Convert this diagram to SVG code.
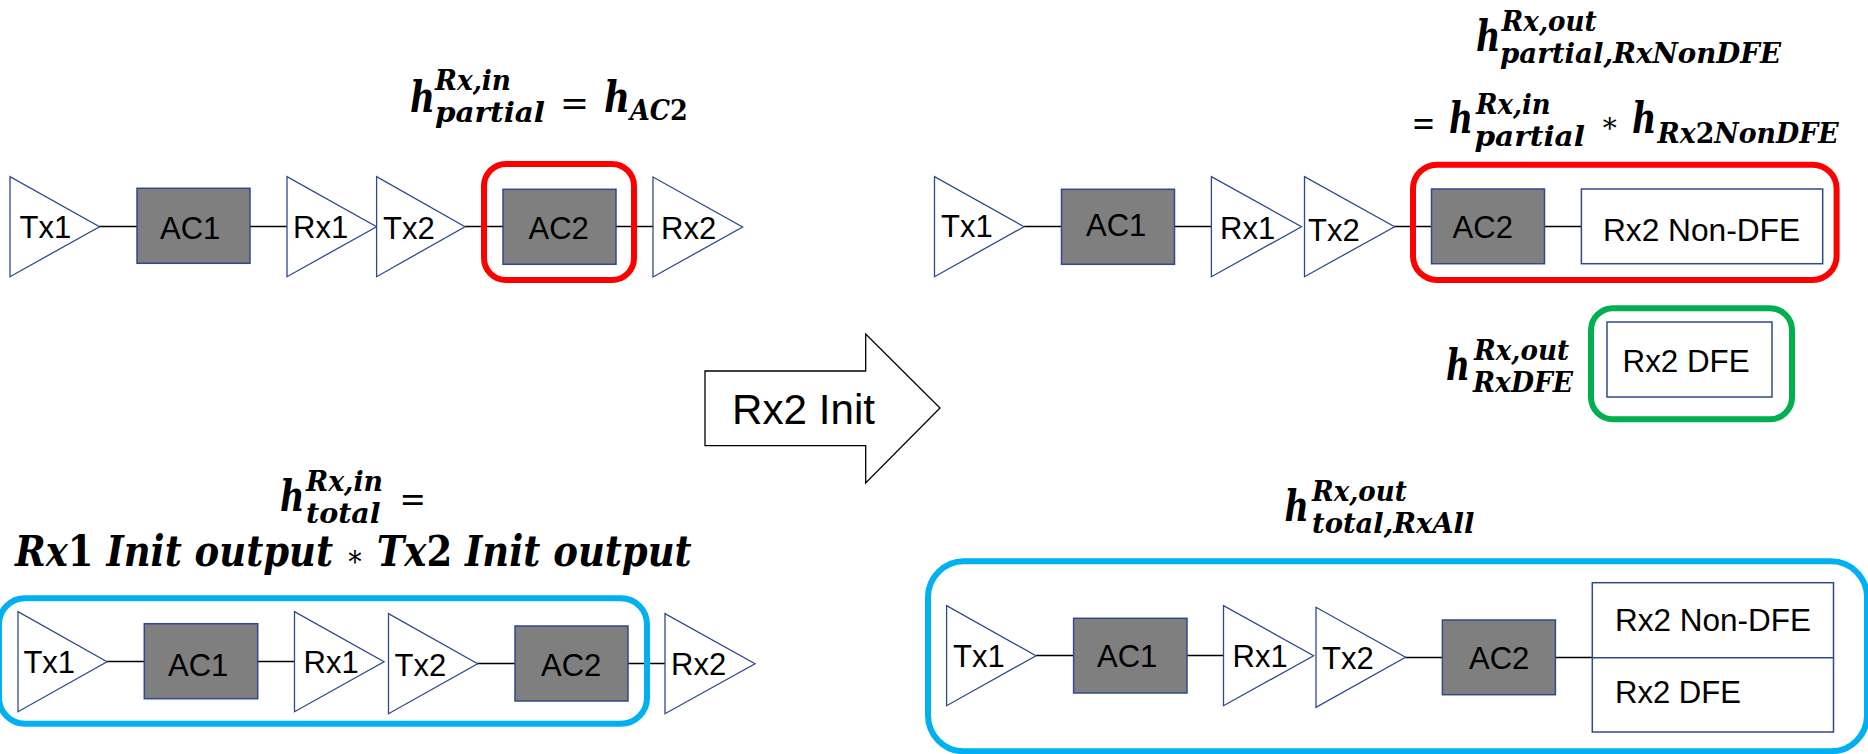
<svg xmlns="http://www.w3.org/2000/svg" width="1868" height="754" viewBox="0 0 1868 754">
<style>
.t{font-family:"Liberation Sans",Arial,sans-serif;font-size:31px;fill:#000}
.a{fill:#fff;stroke:#2F4A8C;stroke-width:1.3}
.g{fill:#7F7F7F;stroke:#2F4A8C;stroke-width:1.5}
.w{fill:#fff;stroke:#2F4A8C;stroke-width:1.5}
.l{stroke:#000;stroke-width:1.4;fill:none}
.hl{fill:none;stroke-width:6}
.m{font-family:"DejaVu Serif","Liberation Serif",serif;font-weight:700;font-style:italic;fill:#000}
.b{font-size:42px}
.s{font-size:28px}
.n{font-style:normal}
.st{font-style:normal;font-weight:400;font-size:30px}
.u{font-family:"DejaVu Serif","Liberation Serif",serif;font-weight:400;fill:#000;font-size:36px}
.x{font-family:"DejaVu Serif","Liberation Serif",serif;font-weight:400;fill:#000;font-size:28px}
</style>
<rect width="1868" height="754" fill="#fff"/>
<g id="connectors">
<path class="l" d="M99 226.5H137M250 226.5H287M465 226.5H503M616 226.5H653"/>
<path class="l" d="M1024 226.5H1062M1174 226.5H1211M1394 226.5H1432M1544 226.5H1581"/>
<path class="l" d="M107 661.5H144M258 661.5H295M477 663.5H515M628 663.5H665"/>
<path class="l" d="M1036 655.5H1074M1187 655.5H1224M1405 657.5H1442M1555 657.5H1592"/>
</g>
<g id="row1">
<g id="r1-tx1"><path class="a" d="M10 176.7V276.7L99.5 226.7Z"/><text class="t" x="19.5" y="238.3">Tx1</text></g>
<g id="r1-ac1"><rect class="g" x="137" y="188.3" width="113" height="75"/><text class="t" x="160" y="238.5">AC1</text></g>
<g id="r1-rx1"><path class="a" d="M287 176.7V276.7L376.6 226.7Z"/><text class="t" x="293" y="238">Rx1</text></g>
<g id="r1-tx2"><path class="a" d="M376.6 176.7V276.7L465 226.7Z"/><text class="t" x="383" y="239">Tx2</text></g>
<g id="r1-ac2"><rect class="g" x="503" y="189.3" width="113" height="75"/><text class="t" x="528.5" y="239">AC2</text></g>
<g id="r1-rx2"><path class="a" d="M653 177V277L742.6 227Z"/><text class="t" x="661" y="239">Rx2</text></g>
<rect id="r1-red" class="hl" stroke="#FF0000" x="484" y="164" width="150" height="116" rx="22"/>
</g>
<g id="row2">
<g id="r2-tx1"><path class="a" d="M934.5 176.7V276.7L1024 226.7Z"/><text class="t" x="941" y="237.3">Tx1</text></g>
<g id="r2-ac1"><rect class="g" x="1061.5" y="189.3" width="113" height="75"/><text class="t" x="1086" y="235.5">AC1</text></g>
<g id="r2-rx1"><path class="a" d="M1211.4 176.7V276.7L1301.5 226.7Z"/><text class="t" x="1220" y="238.7">Rx1</text></g>
<g id="r2-tx2"><path class="a" d="M1304.5 176.7V276.7L1394.6 226.7Z"/><text class="t" x="1308" y="240.7">Tx2</text></g>
<g id="r2-ac2"><rect class="g" x="1431.5" y="189" width="113" height="74.7"/><text class="t" x="1452.6" y="238">AC2</text></g>
<g id="r2-nondfe"><rect class="w" x="1581.4" y="189" width="241.3" height="74.7"/><text class="t" x="1603" y="240.7" textLength="197" lengthAdjust="spacingAndGlyphs">Rx2 Non-DFE</text></g>
<rect id="r2-red" class="hl" stroke="#FF0000" x="1413" y="164.7" width="423.6" height="115.3" rx="24"/>
<g id="r2-dfe"><rect class="w" x="1607" y="322" width="165" height="75"/><text class="t" x="1622.6" y="371.7" textLength="127" lengthAdjust="spacingAndGlyphs">Rx2 DFE</text></g>
<rect id="r2-green" class="hl" stroke="#00B050" x="1591" y="308.3" width="201" height="111" rx="22"/>
</g>
<g id="row3">
<g id="r3-tx1"><path class="a" d="M18 611.7V711.7L107 661.7Z"/><text class="t" x="23.4" y="672.7">Tx1</text></g>
<g id="r3-ac1"><rect class="g" x="144.3" y="623.7" width="113.4" height="75"/><text class="t" x="168" y="676">AC1</text></g>
<g id="r3-rx1"><path class="a" d="M294.5 611.7V711.7L384 661.7Z"/><text class="t" x="303.5" y="672.7">Rx1</text></g>
<g id="r3-tx2"><path class="a" d="M388.5 613.7V713.7L477.6 663.7Z"/><text class="t" x="394.5" y="676">Tx2</text></g>
<g id="r3-ac2"><rect class="g" x="515" y="626" width="113" height="75"/><text class="t" x="541" y="676">AC2</text></g>
<g id="r3-rx2"><path class="a" d="M665 613.7V713.7L755 663.7Z"/><text class="t" x="671" y="675">Rx2</text></g>
<rect id="r3-blue" class="hl" stroke="#00B0F0" x="-1" y="598.3" width="648" height="125.4" rx="26"/>
</g>
<g id="row4">
<g id="r4-tx1"><path class="a" d="M946.6 605.7V705.7L1036 655.7Z"/><text class="t" x="953" y="667.3">Tx1</text></g>
<g id="r4-ac1"><rect class="g" x="1073.6" y="618.3" width="113.4" height="74.7"/><text class="t" x="1097" y="667.3">AC1</text></g>
<g id="r4-rx1"><path class="a" d="M1223.5 605.7V705.7L1313.6 655.7Z"/><text class="t" x="1232.5" y="667">Rx1</text></g>
<g id="r4-tx2"><path class="a" d="M1316 607.3V707.3L1405.5 657.3Z"/><text class="t" x="1322" y="669">Tx2</text></g>
<g id="r4-ac2"><rect class="g" x="1442.4" y="620" width="113" height="74.7"/><text class="t" x="1469" y="669">AC2</text></g>
<g id="r4-rx2"><rect class="w" x="1592.3" y="582.7" width="241.2" height="149.3"/><path class="w" d="M1592.3 657.7H1833.5"/><text class="t" x="1615" y="631" textLength="196" lengthAdjust="spacingAndGlyphs">Rx2 Non-DFE</text><text class="t" x="1615" y="703.3" textLength="126" lengthAdjust="spacingAndGlyphs">Rx2 DFE</text></g>
<rect id="r4-blue" class="hl" stroke="#00B0F0" x="928" y="561.3" width="939" height="190" rx="36"/>
</g>
<g id="init-arrow"><path fill="#fff" stroke="#000" stroke-width="1.3" d="M705 371H865.7V334L940 408L865.7 483V445.7H705Z"/><text class="t" style="font-size:42px" x="732" y="424" textLength="143" lengthAdjust="spacingAndGlyphs">Rx2 Init</text></g>
<g id="eq1">
<text class="m b" x="410" y="112" textLength="25" lengthAdjust="spacingAndGlyphs">h</text>
<text class="m s" x="435" y="90" textLength="76" lengthAdjust="spacingAndGlyphs">Rx,in</text>
<text class="m s" x="435" y="121.5" textLength="110" lengthAdjust="spacingAndGlyphs">partial</text>
<text class="u" x="560" y="114.5" textLength="29" lengthAdjust="spacingAndGlyphs">=</text>
<text class="m b" x="604" y="112" textLength="26" lengthAdjust="spacingAndGlyphs">h</text>
<text class="m s" transform="translate(630 119.5) scale(.91 1)">AC<tspan class="n">2</tspan></text>
</g>
<g id="eq2">
<text class="m b" transform="translate(1476 51) scale(.8 1)">h</text>
<text class="m s" x="1501.6" y="31" textLength="95" lengthAdjust="spacingAndGlyphs">Rx,out</text>
<text class="m s" x="1500" y="62.7" textLength="281" lengthAdjust="spacingAndGlyphs">partial,RxNonDFE</text>
<text class="u" x="1411.5" y="134.5" textLength="24" lengthAdjust="spacingAndGlyphs">=</text>
<text class="m b" x="1449" y="133" textLength="24" lengthAdjust="spacingAndGlyphs">h</text>
<text class="m s" x="1476" y="114" textLength="74.6" lengthAdjust="spacingAndGlyphs">Rx,in</text>
<text class="m s" x="1474.4" y="145.7" textLength="110.6" lengthAdjust="spacingAndGlyphs">partial</text>
<text class="x" x="1600" y="131.5">∗</text>
<text class="m b" transform="translate(1632 133) scale(.8 1)">h</text>
<text class="m s" transform="translate(1657.6 143) scale(.955 1)">Rx<tspan class="n">2</tspan>NonDFE</text>
</g>
<g id="eq3">
<text class="m b" x="1446" y="380" textLength="24" lengthAdjust="spacingAndGlyphs">h</text>
<text class="m s" x="1474" y="360" textLength="95" lengthAdjust="spacingAndGlyphs">Rx,out</text>
<text class="m s" x="1473" y="392" textLength="100" lengthAdjust="spacingAndGlyphs">RxDFE</text>
</g>
<g id="eq4">
<text class="m b" x="280" y="511" textLength="24.5" lengthAdjust="spacingAndGlyphs">h</text>
<text class="m s" x="306" y="490.7" textLength="77" lengthAdjust="spacingAndGlyphs">Rx,in</text>
<text class="m s" x="306" y="523.3" textLength="74.6" lengthAdjust="spacingAndGlyphs">total</text>
<text class="u" x="399.5" y="510.5" textLength="26.5" lengthAdjust="spacingAndGlyphs">=</text>
<text class="m b" transform="translate(15 565.7) scale(.881 1)">Rx<tspan class="n">1</tspan> Init output <tspan class="st">∗</tspan> Tx<tspan class="n">2</tspan> Init output</text>
</g>
<g id="eq5">
<text class="m b" x="1284.6" y="521" textLength="24.4" lengthAdjust="spacingAndGlyphs">h</text>
<text class="m s" x="1312" y="501" textLength="94.7" lengthAdjust="spacingAndGlyphs">Rx,out</text>
<text class="m s" x="1312" y="532.7" textLength="162.4" lengthAdjust="spacingAndGlyphs">total,RxAll</text>
</g>
</svg>
